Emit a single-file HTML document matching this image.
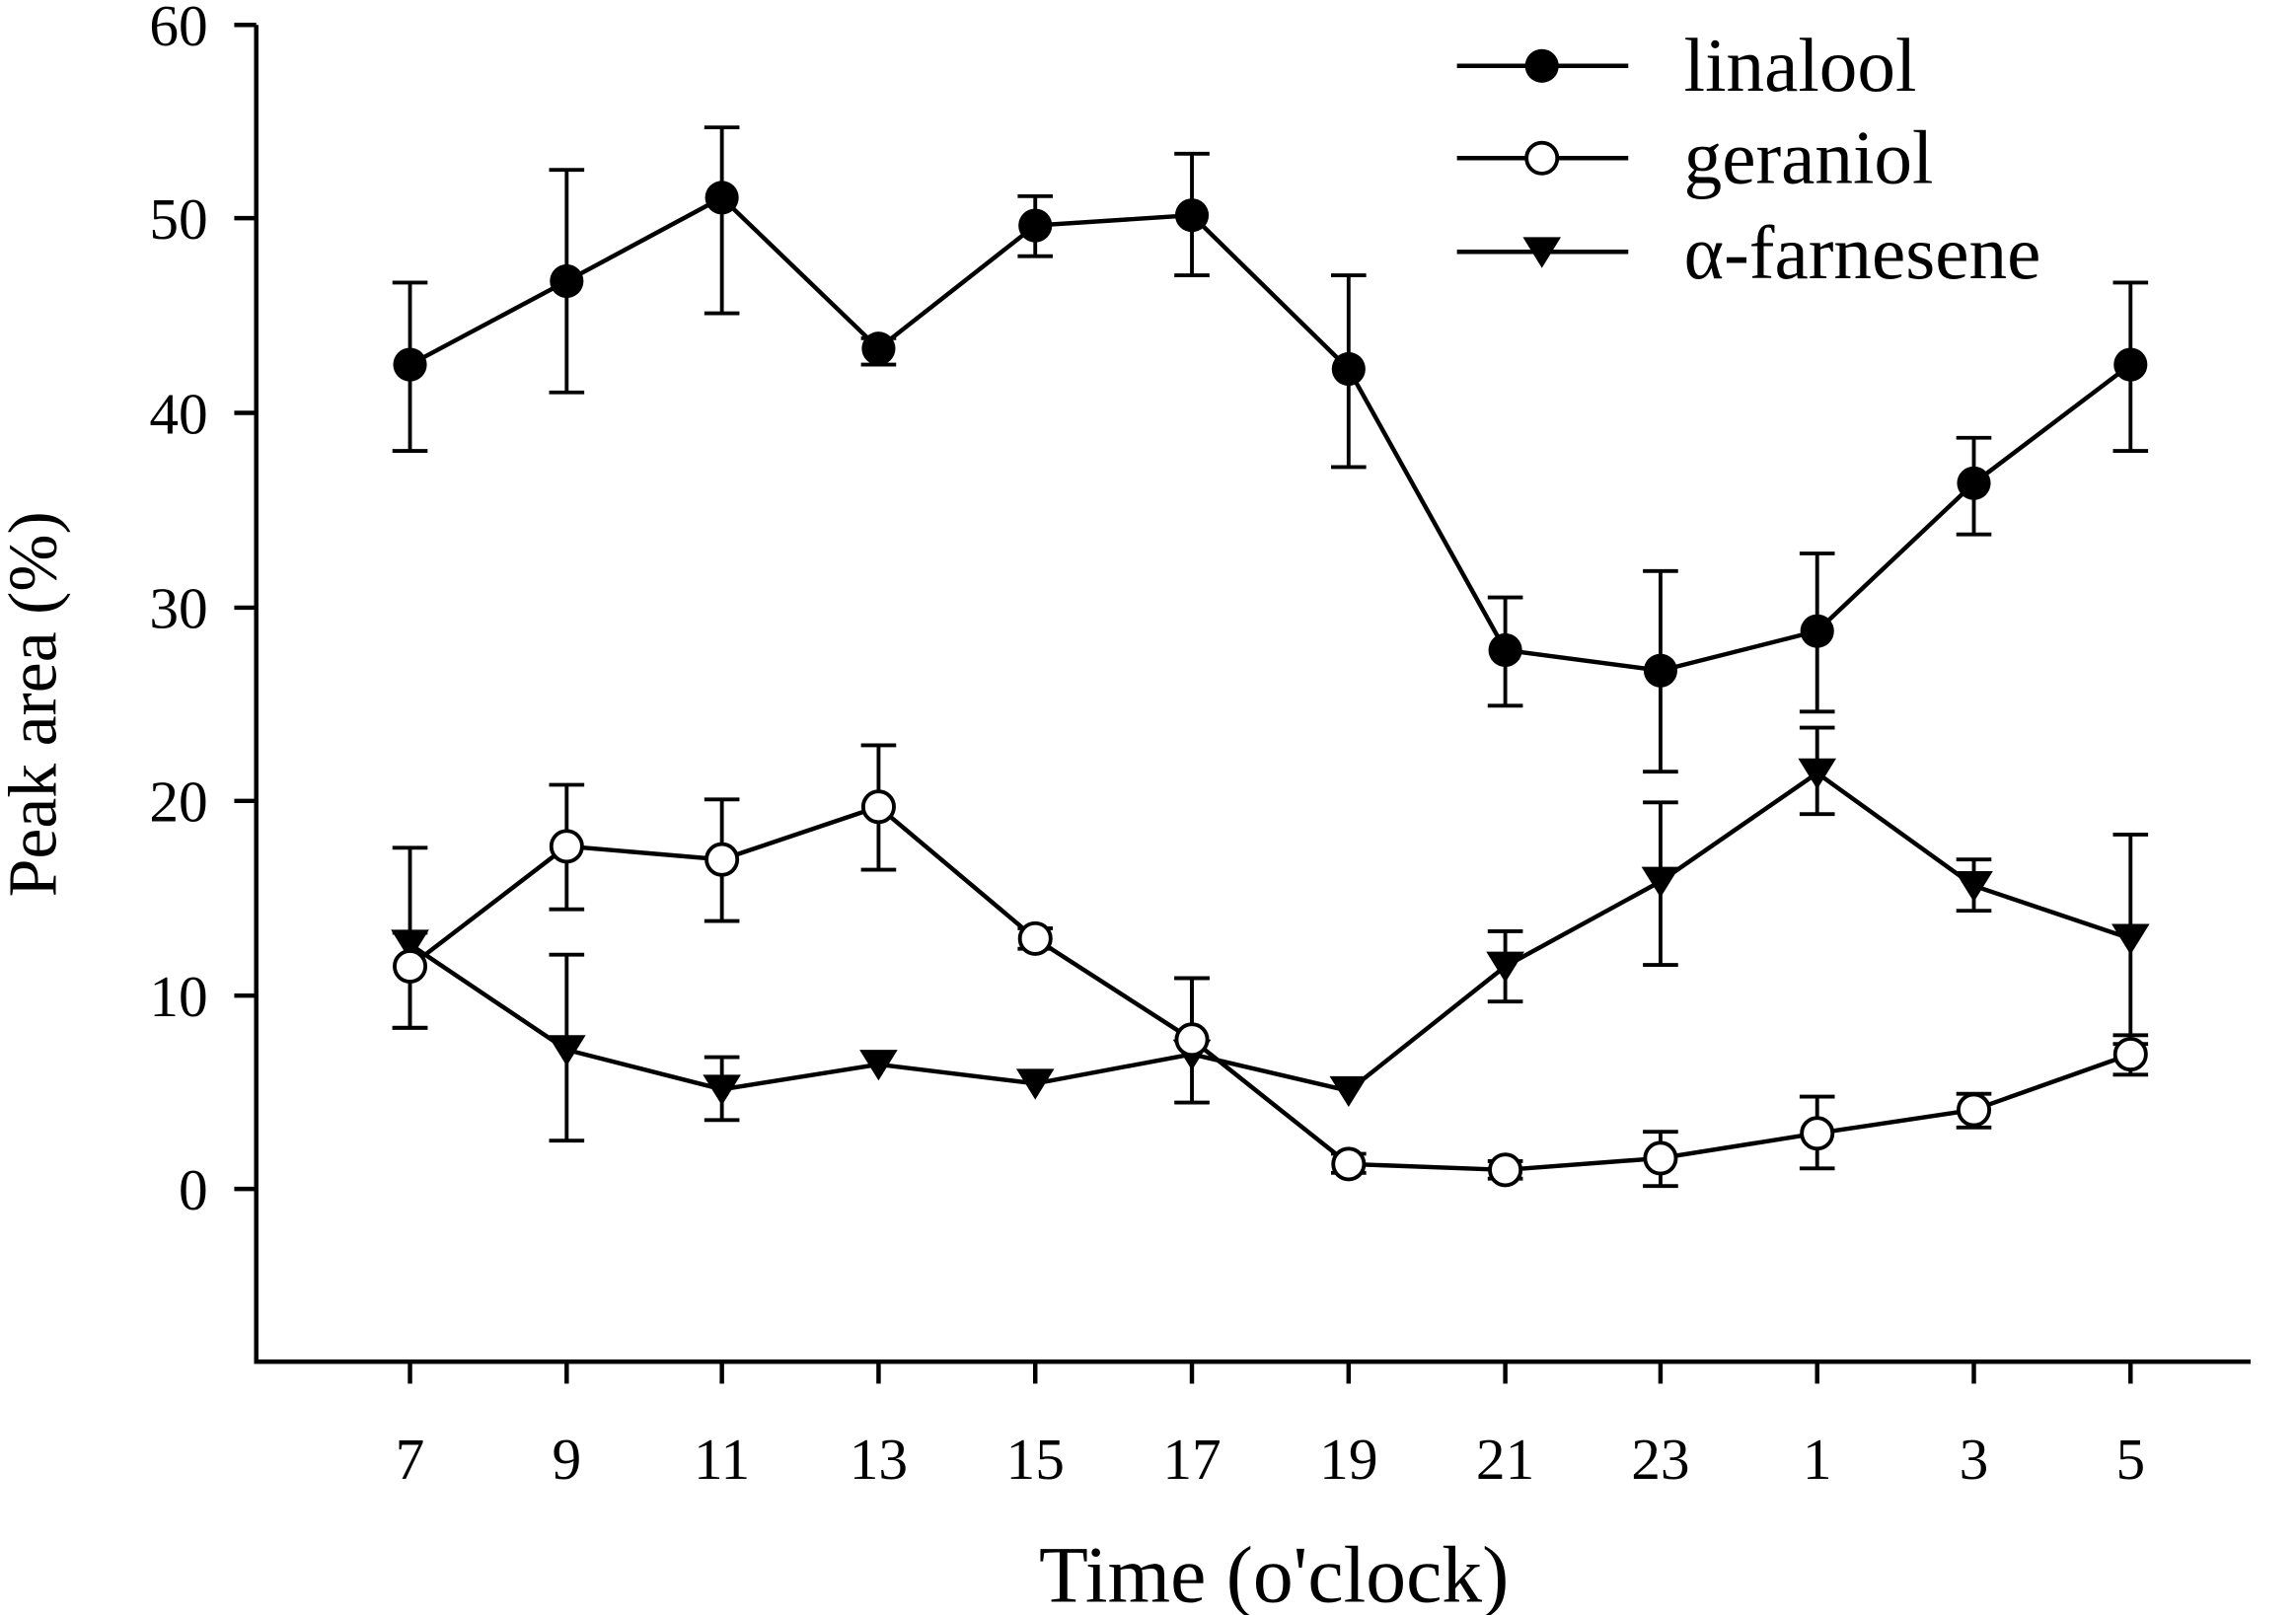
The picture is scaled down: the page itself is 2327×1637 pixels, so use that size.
<!DOCTYPE html>
<html><head><meta charset="utf-8"><style>html,body{margin:0;padding:0;background:#fff}svg{display:block}</style></head>
<body>
<svg width="2327" height="1637" viewBox="0 0 1568 1103" preserveAspectRatio="none" xmlns="http://www.w3.org/2000/svg" font-family="Liberation Serif, serif">
<rect width="1568" height="1103" fill="#fff"/>
<g stroke="#000" stroke-width="3" fill="none">
<path d="M175 17V930H1537"/>
<path d="M160 17H175M160 149H175M160 282H175M160 415H175M160 547H175M160 680H175M160 812H175"/>
<path d="M280 930v15M387 930v15M493 930v15M600 930v15M707 930v15M814 930v15M921 930v15M1028 930v15M1134 930v15M1241 930v15M1348 930v15M1455 930v15"/>
</g>
<g font-size="40" text-anchor="end">
<text x="142" y="31">60</text><text x="142" y="163">50</text><text x="142" y="296">40</text><text x="142" y="429">30</text><text x="142" y="561">20</text><text x="142" y="694">10</text><text x="142" y="826">0</text>
</g>
<g font-size="40" text-anchor="middle">
<text x="280" y="1010">7</text><text x="387" y="1010">9</text><text x="493" y="1010">11</text><text x="600" y="1010">13</text><text x="707" y="1010">15</text><text x="814" y="1010">17</text><text x="921" y="1010">19</text><text x="1028" y="1010">21</text><text x="1134" y="1010">23</text><text x="1241" y="1010">1</text><text x="1348" y="1010">3</text><text x="1455" y="1010">5</text>
</g>
<text x="870" y="1094" font-size="55" text-anchor="middle">Time (o'clock)</text>
<text transform="translate(38,481) rotate(-90)" font-size="47" text-anchor="middle">Peak area (%)</text>
<g stroke="#000" stroke-width="2.6" fill="none">
<path d="M280 193V308M268 193h24M268 308h24M387 116V268M375 116h24M375 268h24M493 87V214M481 87h24M481 214h24M600 231V249M588 231h24M588 249h24M707 134V175M695 134h24M695 175h24M814 105V188M802 105h24M802 188h24M921 188V319M909 188h24M909 319h24M1028 408V482M1016 408h24M1016 482h24M1134 390V527M1122 390h24M1122 527h24M1241 378V486M1229 378h24M1229 486h24M1348 299V365M1336 299h24M1336 365h24M1455 193V308M1443 193h24M1443 308h24"/>
<path d="M280 637V702M268 637h24M268 702h24M387 536V621M375 536h24M375 621h24M493 546V629M481 546h24M481 629h24M600 509V594M588 509h24M588 594h24M707 634V648M695 634h24M695 648h24M814 668V710M802 668h24M921 788V801M909 788h24M909 801h24M1028 793V805M1016 793h24M1016 805h24M1134 773V810M1122 773h24M1122 810h24M1241 749V798M1229 749h24M1229 798h24M1348 747V770M1336 747h24M1336 770h24M1455 707V734M1443 707h24M1443 734h24"/>
<path d="M280 579V702M268 579h24M268 702h24M387 652V779M375 652h24M375 779h24M493 722V765M481 722h24M481 765h24M814 668V753M802 668h24M802 753h24M1028 636V684M1016 636h24M1016 684h24M1134 548V659M1122 548h24M1122 659h24M1241 497V556M1229 497h24M1229 556h24M1348 587V622M1336 587h24M1336 622h24M1455 570V713M1443 570h24M1443 713h24"/>
</g>
<g stroke="#000" stroke-width="3" fill="none">
<polyline points="280,249 387,192 493,135 600,238 707,154 814,147 921,252 1028,444 1134,458 1241,431 1348,330 1455,249"/>
<polyline points="280,660 387,578 493,587 600,551 707,641 814,710 921,795 1028,799 1134,791 1241,774 1348,758 1455,720"/>
<polyline points="280,645 387,717 493,744 600,727 707,740 814,720 921,745 1028,660 1134,602 1241,528 1348,605 1455,641"/>
<path d="M995 45H1112M995 108H1112M995 172H1112"/>
</g>
<g fill="#000">
<circle cx="280" cy="249" r="11.5"/><circle cx="387" cy="192" r="11.5"/><circle cx="493" cy="135" r="11.5"/><circle cx="600" cy="238" r="11.5"/><circle cx="707" cy="154" r="11.5"/><circle cx="814" cy="147" r="11.5"/><circle cx="921" cy="252" r="11.5"/><circle cx="1028" cy="444" r="11.5"/><circle cx="1134" cy="458" r="11.5"/><circle cx="1241" cy="431" r="11.5"/><circle cx="1348" cy="330" r="11.5"/><circle cx="1455" cy="249" r="11.5"/>
<circle cx="1053" cy="45" r="11.5"/>
</g>
<g fill="#000">
<path d="M267 635h26l-13 21z"/><path d="M374 707h26l-13 21z"/><path d="M480 734h26l-13 21z"/><path d="M587 717h26l-13 21z"/><path d="M694 730h26l-13 21z"/><path d="M801 710h26l-13 21z"/><path d="M908 735h26l-13 21z"/><path d="M1015 650h26l-13 21z"/><path d="M1121 592h26l-13 21z"/><path d="M1228 518h26l-13 21z"/><path d="M1335 595h26l-13 21z"/><path d="M1442 631h26l-13 21z"/>
<path d="M1040 162h26l-13 21z"/>
</g>
<g fill="#fff" stroke="#000" stroke-width="2.6">
<circle cx="280" cy="660" r="10.5"/><circle cx="387" cy="578" r="10.5"/><circle cx="493" cy="587" r="10.5"/><circle cx="600" cy="551" r="10.5"/><circle cx="707" cy="641" r="10.5"/><circle cx="814" cy="710" r="10.5"/><circle cx="921" cy="795" r="10.5"/><circle cx="1028" cy="799" r="10.5"/><circle cx="1134" cy="791" r="10.5"/><circle cx="1241" cy="774" r="10.5"/><circle cx="1348" cy="758" r="10.5"/><circle cx="1455" cy="720" r="10.5"/>
<circle cx="1053" cy="108" r="10.5"/>
</g>
<g font-size="52">
<text x="1150" y="62">linalool</text>
<text x="1150" y="125">geraniol</text>
<text x="1150" y="190">α-farnesene</text>
</g>
</svg>
</body></html>
